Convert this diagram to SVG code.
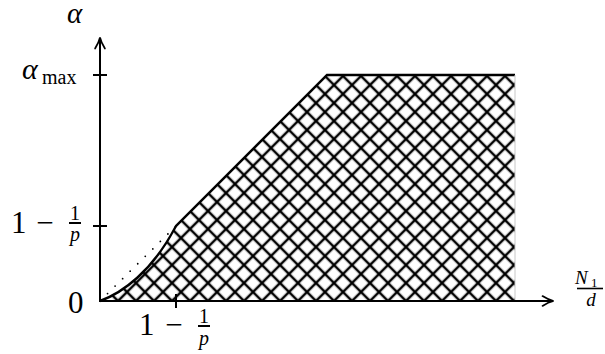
<svg xmlns="http://www.w3.org/2000/svg" width="605" height="354" viewBox="0 0 605 354">
<style>
.t{font-family:"Liberation Serif","Times New Roman",serif;fill:#000}
.i{font-style:italic}
.ax{stroke:#000;stroke-width:2;fill:none}
.tick{stroke:#000;stroke-width:2}
</style>
<defs>
<pattern id="hatch" patternUnits="userSpaceOnUse" width="12.728" height="12.728" patternTransform="translate(100,301) rotate(45)">
<rect x="0" y="-1.25" width="12.728" height="2.5" fill="#000"/>
<rect x="-1.25" y="0" width="2.5" height="12.728" fill="#000"/>
<rect x="0" y="11.478" width="12.728" height="1.25" fill="#000"/>
<rect x="11.478" y="0" width="1.25" height="12.728" fill="#000"/>
</pattern>
<marker id="arr" markerUnits="userSpaceOnUse" markerWidth="14" markerHeight="14" viewBox="0 0 12 10" refX="10" refY="5" orient="auto">
<path d="M1,0.8 Q6,4 10.5,5 Q6,6 1,9.2" fill="none" stroke="#000" stroke-width="1.5" stroke-linecap="round"/>
</marker>
</defs>
<g id="region">
<path d="M100,301 C122,293 152,272 176,226 L327,75 L515,75 L515,301 Z" fill="url(#hatch)"/>
<path d="M100,301 C122,293 152,272 176,226 L327,75 L515,75" fill="none" stroke="#000" stroke-width="2.4"/>
<line x1="515" y1="75" x2="515" y2="301" stroke="#c8c8c8" stroke-width="1"/>
</g>
<g id="dotted">
<line x1="100" y1="301" x2="176" y2="226" stroke="#000" stroke-width="1.8" stroke-linecap="round" stroke-dasharray="0 10.6"/>
</g>
<g id="connectors">
<line class="ax" x1="100" y1="302" x2="100" y2="38" marker-end="url(#arr)"/>
<line class="ax" x1="99" y1="301" x2="553" y2="301" marker-end="url(#arr)"/>
<line class="tick" x1="93" y1="75" x2="107" y2="75"/>
<line class="tick" x1="93" y1="226" x2="107" y2="226"/>
<line class="tick" x1="176" y1="294" x2="176" y2="308"/>
</g>
<g id="labels">
<text class="t i" x="67" y="23" font-size="29">α</text>
<text class="t i" x="22" y="79" font-size="30">α</text>
<text class="t" x="42" y="84" font-size="20">max</text>
<text class="t" x="11" y="233" font-size="31">1</text>
<text class="t" x="45" y="233" font-size="31" text-anchor="middle">−</text>
<text class="t" x="75" y="220" font-size="20" text-anchor="middle">1</text>
<line x1="69" y1="223" x2="81" y2="223" stroke="#000" stroke-width="2"/>
<text class="t i" x="75" y="241" font-size="20" text-anchor="middle">p</text>
<text class="t" x="68" y="313" font-size="31">0</text>
<text class="t" x="139" y="335" font-size="31">1</text>
<text class="t" x="174" y="335" font-size="31" text-anchor="middle">−</text>
<text class="t" x="204" y="323" font-size="20" text-anchor="middle">1</text>
<line x1="198" y1="326" x2="210" y2="326" stroke="#000" stroke-width="2"/>
<text class="t i" x="204" y="345" font-size="20" text-anchor="middle">p</text>
<text class="t i" x="575" y="284" font-size="19">N</text>
<text class="t" x="591" y="287" font-size="13">1</text>
<line x1="577" y1="288.5" x2="603" y2="288.5" stroke="#000" stroke-width="1.6"/>
<text class="t i" x="591" y="306" font-size="19" text-anchor="middle">d</text>
</g>
</svg>
